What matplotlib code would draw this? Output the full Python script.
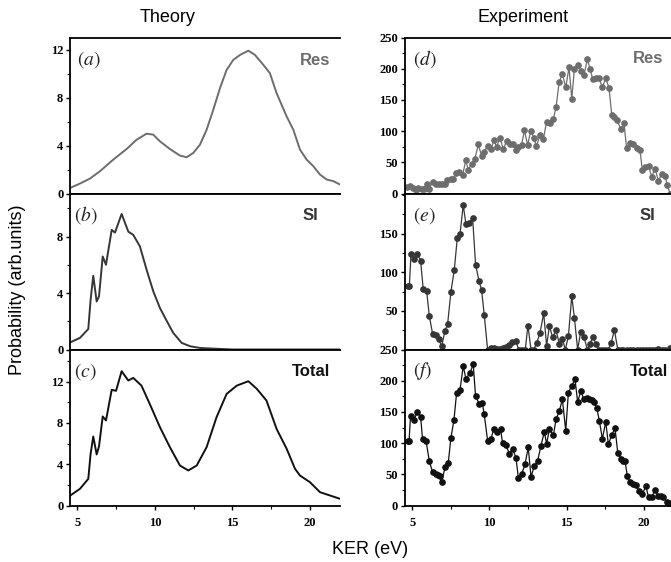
import matplotlib
matplotlib.use("Agg")
import matplotlib.pyplot as plt
from matplotlib.ticker import MultipleLocator, FixedLocator

plt.rcParams['font.family'] = ['Liberation Sans', 'DejaVu Sans']
plt.rcParams['mathtext.fontset'] = 'stix'

# ---------------- theory (KER in eV, probability arb. units) ----------------
res_th_x = [4.55, 5.17, 5.82, 6.46, 7.32, 8.18, 8.83, 9.47, 9.90, 10.33, 10.97, 11.62,
            12.05, 12.48, 12.91, 13.34, 13.77, 14.20, 14.63, 15.06, 15.49, 16.03, 16.46,
            17.00, 17.42, 17.85, 18.50, 18.93, 19.36, 19.79, 20.22, 20.65, 21.08, 21.51, 21.94]
res_th_y = [0.47, 0.83, 1.25, 1.86, 2.83, 3.72, 4.5, 5.0, 4.92, 4.36, 3.72, 3.17,
            3.03, 3.39, 4.08, 5.33, 7.0, 8.8, 10.33, 11.17, 11.58, 11.94, 11.58,
            10.75, 10.06, 8.39, 6.44, 5.33, 3.67, 2.83, 2.28, 1.58, 1.17, 1.03, 0.75]

si_th_x = [4.55, 5.17, 5.71, 5.86, 6.03, 6.25, 6.40, 6.64, 6.85, 7.22, 7.43, 7.86, 8.29,
           8.61, 9.04, 9.47, 9.90, 10.33, 10.76, 11.19, 11.73, 12.27, 12.91, 14.2, 15.06, 22.0]
si_th_y = [0.51, 0.82, 1.45, 3.53, 5.22, 3.4, 3.76, 6.59, 6.0, 8.47, 8.28, 9.6, 8.35,
           8.12, 7.3, 5.65, 4.12, 2.94, 2.04, 1.17, 0.47, 0.23, 0.11, 0.04, 0.0, 0.0]

tot_th_x = [4.55, 5.17, 5.71, 5.86, 6.03, 6.25, 6.40, 6.64, 6.85, 7.22, 7.50, 7.86, 8.29,
            8.61, 9.14, 9.67, 10.33, 10.97, 11.62, 12.16, 12.70, 13.34, 13.98, 14.63, 15.28,
            16.03, 16.57, 17.20, 17.85, 18.50, 19.04, 19.36, 20.00, 20.65, 21.29, 21.94]
tot_th_y = [0.97, 1.61, 2.58, 5.0, 6.68, 4.94, 5.71, 8.62, 8.23, 11.2, 11.1, 13.0, 12.1,
            12.35, 11.6, 9.84, 7.58, 5.65, 3.87, 3.39, 3.87, 5.65, 8.55, 10.8, 11.6,
            12.03, 11.3, 10.16, 7.42, 5.49, 3.55, 2.9, 2.26, 1.29, 0.97, 0.65]

# ---------------- experiment (counts) ----------------
res_ex_x = [4.64, 4.85, 5.02, 5.24, 5.39, 5.61, 5.76, 5.93, 6.10, 6.32, 6.53, 6.75, 6.90,
            7.12, 7.27, 7.48, 7.65, 7.83, 8.02, 8.26, 8.46, 8.63, 8.85, 9.06, 9.28, 9.49,
            9.66, 9.88, 10.10, 10.29, 10.46, 10.68, 10.90, 11.11, 11.33, 11.50, 11.70, 11.87,
            12.08, 12.26, 12.47, 12.67, 12.88, 13.04, 13.27, 13.49, 13.70, 13.92, 14.14, 14.31,
            14.51, 14.72, 14.94, 15.15, 15.33, 15.50, 15.71, 15.93, 16.12, 16.34, 16.51, 16.68,
            16.88, 17.10, 17.31, 17.53, 17.74, 17.92, 18.09, 18.28, 18.50, 18.71, 18.88, 19.11,
            19.32, 19.53, 19.75, 19.90, 20.07, 20.30, 20.51, 20.72, 20.94, 21.15, 21.37, 21.52,
            21.69]
res_ex_y = [11, 12, 9, 5, 9, 7, 8, 15, 8, 19, 16, 16, 16,
            15, 22, 24, 24, 33, 34, 29, 53, 38, 48, 56, 79, 60,
            67, 76, 71, 85, 75, 89, 71, 84, 79, 80, 70, 74,
            78, 101, 78, 100, 89, 76, 93, 87, 115, 113, 120, 138,
            178, 192, 170, 202, 152, 200, 206, 197, 190, 215, 200, 184,
            185, 185, 170, 185, 169, 126, 122, 117, 103, 113, 73, 81,
            80, 73, 69, 37, 42, 44, 27, 40, 20, 32, 28, 13,
            0]

si_ex_x = [4.70, 4.81, 4.92, 5.11, 5.33, 5.54, 5.71, 5.93, 6.10, 6.32, 6.53, 6.73, 6.90,
           7.12, 7.29, 7.50, 7.72, 7.92, 8.09, 8.30, 8.48, 8.69, 8.91, 9.10, 9.32, 9.49,
           9.66, 9.88, 10.10, 10.31, 10.51, 10.68, 10.90, 11.07, 11.28, 11.48, 11.70, 11.89,
           12.11, 12.32, 12.49, 12.69, 12.88, 13.06, 13.27, 13.51, 13.70, 13.88, 14.09, 14.31,
           14.53, 14.72, 14.91, 15.11, 15.33, 15.50, 15.71, 15.91, 16.12, 16.34, 16.51, 16.68,
           16.92, 17.12, 17.31, 17.50, 17.70, 17.87, 18.09, 18.31, 18.52, 18.67, 18.93, 19.11,
           19.28, 19.53, 19.75, 19.92, 20.12, 20.30, 20.51, 20.72, 20.94, 21.15, 21.37, 21.69]
si_ex_y = [82, 82, 124, 117, 124, 115, 78, 76, 44, 20, 19, 13, 4,
           24, 33, 74, 103, 145, 149, 187, 162, 164, 170, 110, 89, 77,
           45, 0, 2, 2, 1, 1, 2, 3, 6, 10, 11, 0,
           0, 0, 31, 0, 0, 9, 21, 47, 5, 30, 16, 25,
           7, 14, 0, 17, 69, 41, 0, 23, 16, 0, 7, 16,
           7, 0, 0, 0, 0, 8, 25, 0, 0, 0, 0, 0,
           0, 0, 0, 0, 0, 0, 0, 0, 1, 0, 0, 2]

tot_ex_x = [4.70, 4.79, 4.89, 5.11, 5.33, 5.54, 5.67, 5.89, 6.10, 6.32, 6.51, 6.66, 6.78,
            6.90, 7.12, 7.33, 7.50, 7.70, 7.87, 8.09, 8.30, 8.48, 8.74, 8.95, 9.10, 9.34,
            9.53, 9.66, 9.88, 10.08, 10.29, 10.51, 10.72, 10.85, 11.07, 11.28, 11.50, 11.72,
            11.87, 12.08, 12.30, 12.51, 12.69, 12.90, 13.12, 13.34, 13.55, 13.70, 13.88, 14.14,
            14.31, 14.53, 14.72, 14.94, 15.11, 15.33, 15.54, 15.71, 15.91, 16.12, 16.30, 16.47,
            16.62, 16.77, 16.95, 17.12, 17.31, 17.53, 17.70, 17.92, 18.13, 18.31, 18.52, 18.67,
            18.78, 18.93, 19.11, 19.28, 19.47, 19.68, 19.90, 20.12, 20.30, 20.51, 20.72, 20.90,
            21.09, 21.26, 21.47, 21.63]
tot_ex_y = [103, 103, 143, 137, 150, 142, 106, 104, 72, 53, 51, 49, 47,
            37, 61, 68, 108, 137, 180, 185, 223, 203, 213, 226, 175, 163,
            165, 146, 104, 106, 123, 118, 122, 100, 97, 83, 91, 76,
            44, 50, 66, 93, 46, 63, 72, 96, 118, 99, 122, 113,
            138, 152, 170, 120, 181, 192, 202, 166, 183, 170, 173, 171,
            169, 166, 156, 135, 107, 134, 98, 113, 124, 84, 75, 72,
            71, 47, 37, 35, 33, 24, 18, 31, 14, 13, 25, 16,
            15, 13, 6, 4]

W, H = 671.0, 562.0
fig = plt.figure(figsize=(W / 100, H / 100), dpi=100)


def box(x0, x1, top, bot):
    return [x0 / W, 1 - bot / H, (x1 - x0) / W, (bot - top) / H]


rows = [(37.5, 193.5), (193.5, 349.5), (349.5, 505.5)]
gray, dark, black = '#6d6d6d', '#363636', '#111111'


def style(ax, xlim, ylim, ymaj, ymin, show_x):
    ax.set_xlim(*xlim)
    ax.set_ylim(*ylim)
    ax.xaxis.set_major_locator(MultipleLocator(5))
    ax.xaxis.set_minor_locator(MultipleLocator(2.5))
    ax.yaxis.set_major_locator(FixedLocator(ymaj))
    ax.yaxis.set_minor_locator(MultipleLocator(ymin))
    ax.spines['right'].set_visible(False)
    for s in ax.spines.values():
        s.set_linewidth(1.3)
    ax.tick_params(which='major', direction='out', length=3, width=1, pad=2)
    ax.tick_params(which='minor', direction='out', length=2, width=0.8)
    ax.tick_params(axis='x', pad=5, labelbottom=show_x)
    for lab in ax.get_xticklabels() + ax.get_yticklabels():
        lab.set_fontfamily('Liberation Serif')
        lab.set_fontweight('bold')
        lab.set_fontsize(9)


def tags(ax, letter, lx, name, nx, ny, col):
    ax.text(lx, 0.86, r'$(%s)$' % letter, transform=ax.transAxes, fontsize=14,
            ha='left', va='center', color='#222222')
    ax.text(nx, ny, name, transform=ax.transAxes, fontsize=12, fontweight='bold',
            ha='right', va='center', color=col)


# theory column
th = [(res_th_x, res_th_y, gray, (0, 13.04), [0, 4, 8, 12], 'a', 'Res', 0.963, 0.85),
      (si_th_x, si_th_y, dark, (0, 11.05), [0, 4, 8], 'b', 'SI', 0.918, 0.862),
      (tot_th_x, tot_th_y, black, (0, 15.1), [0, 4, 8, 12], 'c', 'Total', 0.963, 0.862)]
for i, (x, y, col, yl, yt, let, name, nx, ny) in enumerate(th):
    ax = fig.add_axes(box(70.3, 340, *rows[i]))
    ax.plot(x, y, color=col, lw=1.4, solid_joinstyle='round')
    style(ax, (4.55, 21.94), yl, yt, 2, i == 2)
    tags(ax, let, 0.012 if i else 0.025, name, nx, ny, col)

# experiment column
ex = [(res_ex_x, res_ex_y, gray, (0, 250), [0, 50, 100, 150, 200, 250], 'd', 'Res', 0.966, 0.865),
      (si_ex_x, si_ex_y, dark, (0, 202), [50, 100, 150], 'e', 'SI', 0.936, 0.862),
      (tot_ex_x, tot_ex_y, black, (0, 250), [0, 50, 100, 150, 200, 250], 'f', 'Total', 0.985, 0.862)]
for i, (x, y, col, yl, yt, let, name, nx, ny) in enumerate(ex):
    ax = fig.add_axes(box(405, 672, *rows[i]))
    ax.plot(x, y, color=col, lw=0.9, marker='o', ms=3.8, mec=col, mfc=col)
    style(ax, (4.53, 21.82), yl, yt, 25, i == 2)
    tags(ax, let, 0.03, name, nx, ny, col)

fig.text(168 / W, 1 - 17 / H, 'Theory', ha='center', va='center', fontsize=13)
fig.text(523 / W, 1 - 17 / H, 'Experiment', ha='center', va='center', fontsize=13)
fig.text(18 / W, 1 - 290 / H, 'Probability (arb.units)', rotation=90,
         ha='center', va='center', fontsize=13)
fig.text(370 / W, 1 - 549 / H, 'KER (eV)', ha='center', va='center', fontsize=13)

fig.savefig('out.png', dpi=100)
